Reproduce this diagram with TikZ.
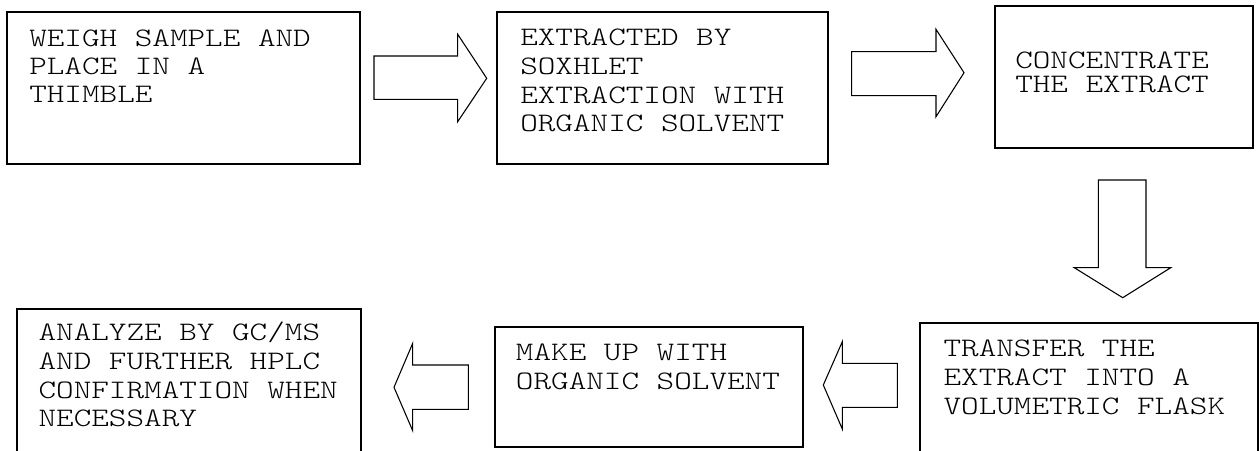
\documentclass[tikz,border=0pt]{standalone}
\usepackage{fontspec}
\newfontfamily\cour[FakeStretch=1.257]{Latin Modern Mono Light}
\usetikzlibrary{fit}
\newcommand\fstrut{\rule{0pt}{15pt}}
\begin{document}
\begin{tikzpicture}[x=0.75pt,y=-0.75pt,
  box/.style={draw, line width=1.2pt, inner sep=0pt},
  lbl/.style={anchor=north west, inner sep=0pt, align=left, text=black,
    font=\cour\fontsize{20}{21.5}\selectfont},
  blk/.style={draw, line width=0.8pt, line join=miter, fill=white}]
\useasboundingbox (0,0) rectangle (1259,450);
% boxes
\node[box, fit={(7,12) (360,164)}] (b1) {};
\node[box, fit={(497,12) (828,164)}] (b2) {};
\node[box, fit={(995,6) (1253,148)}] (b3) {};
\node[box, fit={(920,323) (1258,470)}] (b6) {};
\node[box, fit={(495,327) (803,447)}] (b5) {};
\node[box, fit={(17,309) (361,470)}] (b4) {};
% labels (node top = first baseline - 20px)
\node[lbl, font=\cour\fontsize{20}{21}\selectfont] (t1) at (29,26) {\fstrut WEIGH SAMPLE AND\\PLACE IN A\\THIMBLE};
\node[lbl] (t2) at (520,25.7) {\fstrut EXTRACTED BY\\SOXHLET\\EXTRACTION WITH\\ORGANIC SOLVENT};
\node[lbl, font=\cour\fontsize{20}{17.8}\selectfont] (t3) at (1015,48) {\fstrut CONCENTRATE\\THE EXTRACT};
\node[lbl] (t6) at (943.3,336.7) {\fstrut TRANSFER THE\\EXTRACT INTO A\\VOLUMETRIC FLASK};
\node[lbl] (t5) at (515.7,340.7) {\fstrut MAKE UP WITH\\ORGANIC SOLVENT};
\node[lbl] (t4) at (38.3,320.7) {\fstrut ANALYZE BY GC/MS\\AND FURTHER HPLC\\CONFIRMATION WHEN\\NECESSARY};
% block arrows
\draw[blk] (374,56) -- (457.7,56) -- (457.7,34.3) -- (486.7,78.3) -- (457.7,121.7) -- (457.7,99.3) -- (374,99.3) -- cycle;
\draw[blk] (851.7,51.7) -- (936,51.7) -- (936,29.3) -- (964,72.7) -- (936,116.7) -- (936,95.7) -- (851.7,95.7) -- cycle;
\draw[blk] (1098.3,180) -- (1146,180) -- (1146,267.7) -- (1170.7,267.7) -- (1122.7,297.7) -- (1074.3,267.7) -- (1098.3,267.7) -- cycle;
\draw[blk] (823.3,385) -- (842.3,341.7) -- (842.3,363.3) -- (897.3,363.3) -- (897.3,407.3) -- (842.3,407.3) -- (842.3,429) -- cycle;
\draw[blk] (394,387.3) -- (412.7,343.3) -- (412.7,365) -- (468.3,365) -- (468.3,409.3) -- (412.7,409.3) -- (412.7,430.7) -- cycle;
\end{tikzpicture}
\end{document}
